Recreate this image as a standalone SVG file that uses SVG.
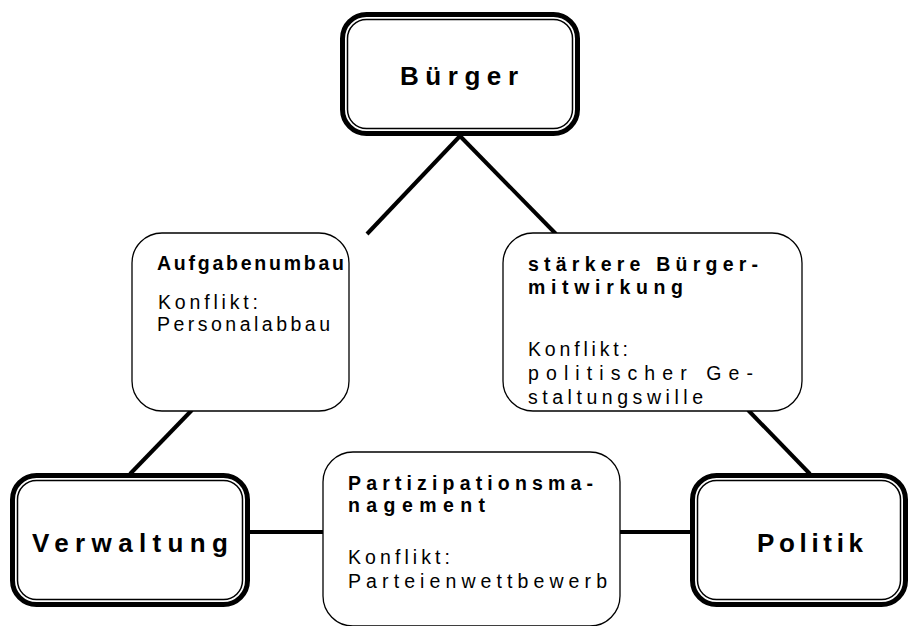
<svg xmlns="http://www.w3.org/2000/svg" width="920" height="626" viewBox="0 0 920 626">
<style>
.bg{fill:#fff}
.outer{fill:#fff;stroke:#000;stroke-width:5}
.inner{fill:none;stroke:#000;stroke-width:1.5}
.box{fill:#fff;stroke:#000;stroke-width:1.3}
.con{stroke:#000;stroke-width:4;fill:none;stroke-linecap:butt}
.big{font-family:"Liberation Sans",Arial,sans-serif;font-weight:bold;font-size:26px;fill:#000}
.t{font-family:"Liberation Sans",Arial,sans-serif;font-weight:bold;font-size:19.5px;fill:#000}
.b{font-family:"Liberation Sans",Arial,sans-serif;font-size:19.5px;fill:#000}
</style>
<rect class="bg" x="0" y="0" width="920" height="626"/>
<g id="connectors">
<line class="con" x1="460" y1="136" x2="367" y2="234"/>
<line class="con" x1="460" y1="136" x2="556" y2="234"/>
<line class="con" x1="192" y1="410" x2="130" y2="474"/>
<line class="con" x1="748" y1="410" x2="810" y2="474"/>
<line class="con" x1="250" y1="532" x2="323" y2="532"/>
<line class="con" x1="620" y1="532" x2="690" y2="532"/>
</g>
<g id="buerger">
<rect class="outer" x="342.5" y="14.5" width="235" height="119" rx="24"/>
<rect class="inner" x="347.5" y="19.5" width="225" height="109" rx="19"/>
<text class="big" x="400" y="85" textLength="118" lengthAdjust="spacing">Bürger</text>
</g>
<g id="verwaltung">
<rect class="outer" x="12.5" y="475.5" width="235" height="129" rx="24"/>
<rect class="inner" x="17.5" y="480.5" width="225" height="119" rx="19"/>
<text class="big" x="32" y="552" textLength="196" lengthAdjust="spacing">Verwaltung</text>
</g>
<g id="politik">
<rect class="outer" x="692.5" y="475.5" width="213" height="129" rx="24"/>
<rect class="inner" x="697.5" y="480.5" width="203" height="119" rx="19"/>
<text class="big" x="757" y="552" textLength="106" lengthAdjust="spacing">Politik</text>
</g>
<g id="aufgabenumbau">
<rect class="box" x="132" y="233" width="217" height="178" rx="30"/>
<text class="t" x="157" y="270" textLength="187" lengthAdjust="spacing">Aufgabenumbau</text>
<text class="b" x="158" y="309" textLength="100" lengthAdjust="spacing">Konflikt:</text>
<text class="b" x="157" y="331" textLength="173" lengthAdjust="spacing">Personalabbau</text>
</g>
<g id="buergermitwirkung">
<rect class="box" x="503" y="233" width="299" height="178" rx="30"/>
<text class="t" x="528" y="271" textLength="230" lengthAdjust="spacing">stärkere Bürger-</text>
<text class="t" x="528" y="294" textLength="155" lengthAdjust="spacing">mitwirkung</text>
<text class="b" x="528" y="356" textLength="100" lengthAdjust="spacing">Konflikt:</text>
<text class="b" x="528" y="380" textLength="225" lengthAdjust="spacing">politischer Ge-</text>
<text class="b" x="528" y="404" textLength="175" lengthAdjust="spacing">staltungswille</text>
</g>
<g id="partizipation">
<rect class="box" x="323" y="452" width="297" height="174" rx="30"/>
<text class="t" x="348" y="490" textLength="245" lengthAdjust="spacing">Partizipationsma-</text>
<text class="t" x="348" y="512" textLength="137" lengthAdjust="spacing">nagement</text>
<text class="b" x="348" y="564" textLength="102" lengthAdjust="spacing">Konflikt:</text>
<text class="b" x="348" y="588" textLength="259" lengthAdjust="spacing">Parteienwettbewerb</text>
</g>
</svg>
